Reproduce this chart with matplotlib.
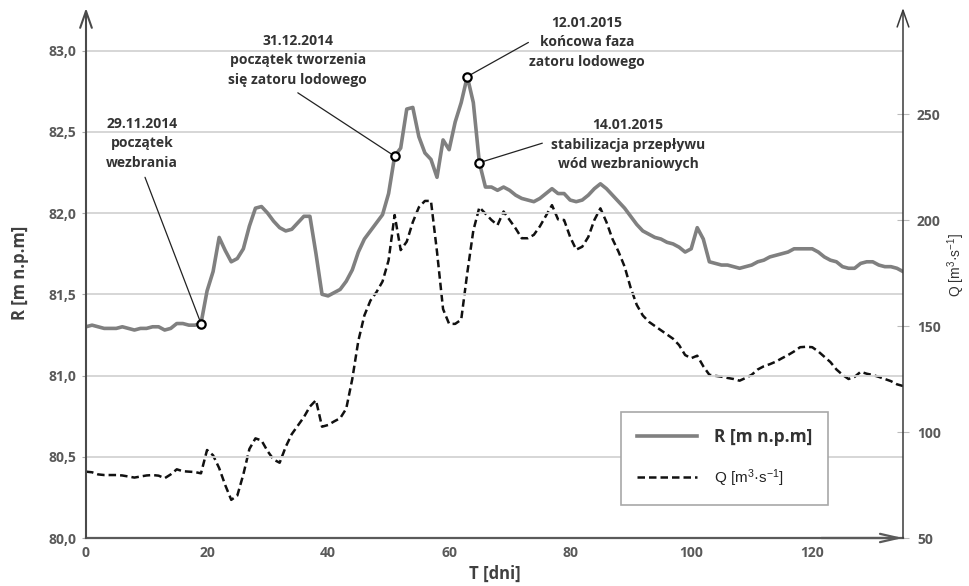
import matplotlib
matplotlib.use("Agg")
import matplotlib.pyplot as plt
import numpy as np

plt.rcParams['font.family'] = ['Open Sans', 'DejaVu Sans']
plt.rcParams['mathtext.fontset'] = 'custom'
plt.rcParams['mathtext.rm'] = 'Liberation Sans'
plt.rcParams['mathtext.it'] = 'Liberation Sans:italic'

# ---- data ----
days = list(range(0, 136))
R = [81.30, 81.31, 81.30, 81.29, 81.29, 81.29, 81.30, 81.29, 81.28, 81.29,
     81.29, 81.30, 81.30, 81.28, 81.29, 81.32, 81.32, 81.31, 81.31, 81.32,
     81.52, 81.64, 81.85, 81.77, 81.70, 81.72, 81.78, 81.92, 82.03, 82.04,
     82.00, 81.95, 81.91, 81.89, 81.90, 81.94, 81.98, 81.98, 81.75, 81.50,
     81.49, 81.51, 81.53, 81.58, 81.65, 81.76, 81.84, 81.89, 81.94, 81.99,
     82.12, 82.35, 82.40, 82.64, 82.65, 82.47, 82.37, 82.33, 82.22, 82.45,
     82.39, 82.56, 82.68, 82.84, 82.68, 82.31, 82.16, 82.16, 82.14, 82.16,
     82.14, 82.11, 82.09, 82.08, 82.07, 82.09, 82.12, 82.15, 82.12, 82.12,
     82.08, 82.07, 82.08, 82.11, 82.15, 82.18, 82.15, 82.11, 82.07, 82.03,
     81.98, 81.93, 81.89, 81.87, 81.85, 81.84, 81.82, 81.81, 81.79, 81.76,
     81.78, 81.91, 81.84, 81.70, 81.69, 81.68, 81.68, 81.67, 81.66, 81.67,
     81.68, 81.70, 81.71, 81.73, 81.74, 81.75, 81.76, 81.78, 81.78, 81.78,
     81.78, 81.76, 81.73, 81.71, 81.70, 81.67, 81.66, 81.66, 81.69, 81.70,
     81.70, 81.68, 81.67, 81.67, 81.66, 81.64]
Q = [81.3, 81.0, 80.0, 79.7, 79.7, 79.7, 79.5, 79.0, 78.5, 79.0,
     79.5, 79.7, 79.4, 78.2, 80.0, 82.4, 81.5, 81.3, 81.1, 80.5,
     91.5, 89.0, 83.0, 75.0, 68.0, 70.0, 80.0, 92.0, 97.0, 96.0,
     91.0, 87.0, 85.5, 93.0, 99.0, 103.0, 107.0, 112.0, 115.0, 102.5,
     103.3, 105.0, 106.5, 111.0, 125.0, 143.0, 155.0, 162.0, 166.0, 171.0,
     181.0, 202.4, 185.8, 189.8, 199.0, 206.0, 209.0, 209.0, 185.0, 158.0,
     151.0, 151.0, 153.0, 175.0, 195.0, 206.0, 203.0, 200.0, 197.6, 204.0,
     200.0, 196.0, 191.4, 191.4, 193.0, 197.0, 202.0, 207.0, 200.3, 200.0,
     192.0, 186.0, 187.4, 192.0, 200.0, 205.5, 199.0, 191.0, 185.0, 178.0,
     168.0, 160.0, 155.0, 152.0, 150.0, 148.0, 146.0, 144.0, 141.0, 136.3,
     134.8, 136.0, 131.0, 127.0, 126.5, 126.1, 125.5, 125.0, 124.2, 125.5,
     127.0, 129.5, 131.0, 132.0, 133.2, 134.8, 136.3, 138.0, 140.0, 140.2,
     140.0, 138.0, 135.5, 133.0, 129.5, 127.0, 125.0, 126.0, 128.4, 127.5,
     126.9, 126.0, 125.0, 124.0, 122.5, 121.7]

event_days = [19, 51, 63, 65]
event_labels = ["29.11.2014\npoczątek\nwezbrania",
                "31.12.2014\npoczątek tworzenia\nsię zatoru lodowego",
                "12.01.2015\nkońcowa faza\nzatoru lodowego",
                "14.01.2015\nstabilizacja przepływu\nwód wezbraniowych"]

r_ticks = [80.0, 80.5, 81.0, 81.5, 82.0, 82.5, 83.0]
r_ticklabels = ["80,0", "80,5", "81,0", "81,5", "82,0", "82,5", "83,0"]
q_ticks = [50, 100, 150, 200, 250]
x_ticks = [0, 20, 40, 60, 80, 100, 120]

# ---- figure ----
fig = plt.figure(figsize=(9.70, 5.86), dpi=100)
ax = fig.add_axes([86/970, 48/586, 817/970, 530/586])
ax2 = ax.twinx()

ax.set_xlim(0, 135)
ax.set_ylim(80.0, 83.262)
ax2.set_ylim(50, 300)

ax.set_zorder(ax2.get_zorder() + 1)
ax.patch.set_visible(False)

lineQ, = ax2.plot(days, Q, color='#111111', lw=1.8, ls=(0, (3.0, 1.6)),
                  label=r'Q [m$^{3}$·s$^{-1}$]')
lineR, = ax.plot(days, R, color='#808080', lw=2.6, label='R [m n.p.m]')

# grid
for t in r_ticks[1:]:
    ax.axhline(t, color='#d3d3d3', lw=1.3, zorder=0)

# spines with arrows
for a in (ax, ax2):
    for s in a.spines.values():
        s.set_visible(False)
ax.spines['bottom'].set_visible(True)
ax.spines['bottom'].set_color('#5a5a5a')
ax.spines['bottom'].set_linewidth(1.6)
ax.annotate('', xy=(0, 1.0), xytext=(0, 0), xycoords='axes fraction',
            arrowprops=dict(arrowstyle='->,head_length=1.2,head_width=0.42',
                            color='#4a4a4a', lw=1.5, shrinkA=0, shrinkB=0))
ax.annotate('', xy=(1, 1.0), xytext=(1, 0), xycoords='axes fraction',
            arrowprops=dict(arrowstyle='->,head_length=1.2,head_width=0.42',
                            color='#3a3a3a', lw=1.1, shrinkA=0, shrinkB=0))
ax.annotate('', xy=(1.0, 0), xytext=(0.9, 0), xycoords='axes fraction',
            arrowprops=dict(arrowstyle='->,head_length=1.3,head_width=0.3',
                            color='#5a5a5a', lw=1.6, shrinkA=0, shrinkB=0))

tick_font = dict(fontsize=10, fontweight='bold', color='#595959')
ax.set_yticks(r_ticks)
ax.set_yticklabels(r_ticklabels, **tick_font)
ax.set_xticks(x_ticks)
ax.set_xticklabels([str(x) for x in x_ticks], **tick_font)
ax2.set_yticks(q_ticks)
ax2.set_yticklabels([str(q) for q in q_ticks], **tick_font)
ax.tick_params(axis='y', length=3, color='#aaaaaa', pad=4)
ax.tick_params(axis='x', length=0, pad=6)
ax2.tick_params(axis='y', length=8, direction='inout', color='#bbbbbb', pad=6)

ax.set_xlabel('T [dni]', fontsize=12, fontweight='bold', color='#404040', labelpad=3)
ax.set_ylabel('R [m n.p.m]', fontsize=12, fontweight='bold', color='#404040', labelpad=14)
ax2.set_ylabel(r'Q [m$^{3}$·s$^{-1}$]', fontsize=10, family=['Liberation Sans', 'DejaVu Sans'],
               color='#333333')
ax2.yaxis.set_label_coords(1.052, 0.515)

# event markers
ev_R = [R[days.index(d)] for d in event_days]
ax.plot(event_days, ev_R, ls='none', marker='o', ms=6, mfc='white', mec='black',
        mew=1.6, zorder=6)

# annotation layout (text centre, connector start) in data coords
text_pos = [(9.3, 82.43), (35.0, 82.94), (82.8, 83.05), (89.6, 82.42)]
conn_start = [(9.75, 82.22), (35.0, 82.74), (73.1, 83.05), (75.4, 82.43)]
for lab, tp, cs, d, r in zip(event_labels, text_pos, conn_start, event_days, ev_R):
    ax.text(tp[0], tp[1], lab, ha='center', va='center', fontsize=10,
            fontweight='bold', color='#333333', linespacing=1.5, zorder=7)
    ax.annotate('', xy=(d, r), xytext=cs, xycoords='data',
                arrowprops=dict(arrowstyle='-', color='#222222', lw=0.9,
                                shrinkA=0, shrinkB=3), zorder=5)

leg = ax.legend(handles=[lineR, lineQ], loc='lower left',
                bbox_to_anchor=(0.655, 0.062, 0.253, 0.172), mode='expand',
                fancybox=False, framealpha=1, edgecolor='#a8a8a8',
                fontsize=12, handlelength=3.6, handletextpad=1.0,
                labelspacing=1.3, borderpad=0.95, borderaxespad=0)
leg.get_frame().set_linewidth(1.2)
t0, t1 = leg.get_texts()
t0.set_fontweight('bold'); t0.set_color('#333333'); t0.set_fontsize(12.5)
t1.set_family(['Liberation Sans', 'DejaVu Sans']); t1.set_fontsize(11); t1.set_color('#222222')

fig.savefig('out.png', dpi=100)
